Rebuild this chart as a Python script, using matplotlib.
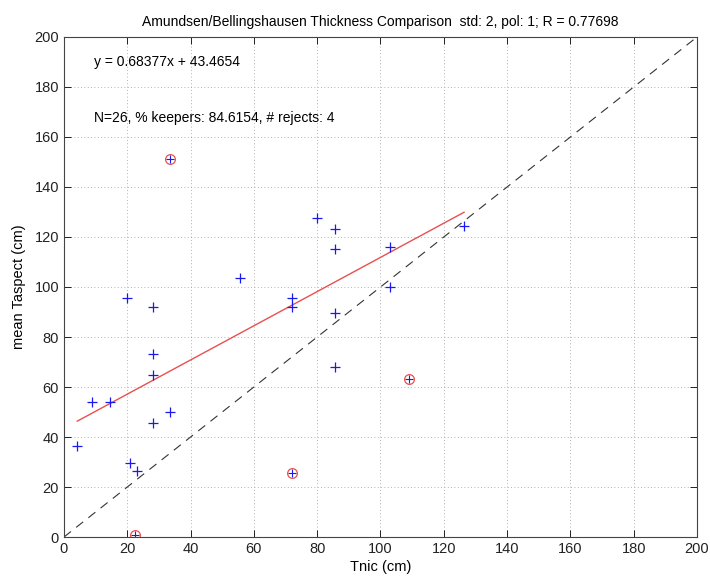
import matplotlib
matplotlib.use("Agg")
import matplotlib.pyplot as plt
import numpy as np

plt.rcParams['font.family'] = ['Liberation Sans', 'DejaVu Sans']

# Thickness pairs kept by the 2-std filter
tnic_keep = [4.2, 8.75, 14.5, 20.0, 28.1, 28.1, 28.1, 33.5, 28.1, 21.0, 23.0,
             55.5, 72.1, 72.1, 79.8, 85.6, 85.6, 103.0, 103.0, 85.6, 85.6, 126.4]
taspect_keep = [36.3, 53.9, 54.1, 95.7, 91.9, 73.2, 64.9, 49.9, 45.6, 29.6, 26.3,
                103.5, 95.7, 91.9, 127.7, 123.2, 115.2, 116.1, 100.0, 89.5, 67.9, 124.4]

# Rejected pairs
tnic_rej = [22.4, 72.1, 33.5, 109.1]
taspect_rej = [0.9, 25.6, 151.1, 63.3]

slope = 0.68377
intercept = 43.4654
r_value = 0.77698
n_total = 26
keepers_pct = 84.6154
n_rejects = 4

fig = plt.figure(figsize=(7.10, 5.77), dpi=100)
ax = fig.add_axes([0.0901, 0.0693, 0.8916, 0.8666])

# 1:1 reference line
ax.plot([0, 200], [0, 200], linestyle=(0, (8, 6)), color='#333333', linewidth=0.8)

# Fit line across the kept range
xf = np.array([min(tnic_keep), max(tnic_keep)])
ax.plot(xf, slope * xf + intercept, color='#e8504f', linewidth=1.0)

# Points
ax.plot(tnic_keep, taspect_keep, linestyle='none', marker='+', color='#1a1aee',
        markersize=7.5, markeredgewidth=0.9)
ax.plot(tnic_rej, taspect_rej, linestyle='none', marker='o', markerfacecolor='none',
        markeredgecolor='#e8504f', markersize=7, markeredgewidth=0.9)
ax.plot(tnic_rej, taspect_rej, linestyle='none', marker='+', color='#1a1aee',
        markersize=6, markeredgewidth=0.8)

ax.set_xlim(0, 200)
ax.set_ylim(0, 200)
ax.set_xticks(np.arange(0, 201, 20))
ax.set_yticks(np.arange(0, 201, 20))
ax.grid(True, linestyle=(0, (1, 3)), color='#9a9a9a', linewidth=0.6)
ax.tick_params(direction='in', top=True, right=True, length=5, width=0.7,
               labelsize=10.5, colors='#222222')
for s in ax.spines.values():
    s.set_linewidth(0.8)
    s.set_color('#444444')

ax.set_xlabel('Tnic (cm)', fontsize=10.5, labelpad=3)
ax.set_ylabel('mean Taspect (cm)', fontsize=10.5, labelpad=6)
ax.set_title('Amundsen/Bellingshausen Thickness Comparison  std: 2, pol: 1; R = %.5f' % r_value,
             fontsize=10, pad=8)

ax.text(9.5, 190, 'y = %.5fx + %.4f' % (slope, intercept), fontsize=10,
        va='center', ha='left')
ax.text(9.5, 167.5, 'N=%d, %% keepers: %.4f, # rejects: %d' % (n_total, keepers_pct, n_rejects),
        fontsize=10, va='center', ha='left')

fig.savefig('out.png', dpi=100)
